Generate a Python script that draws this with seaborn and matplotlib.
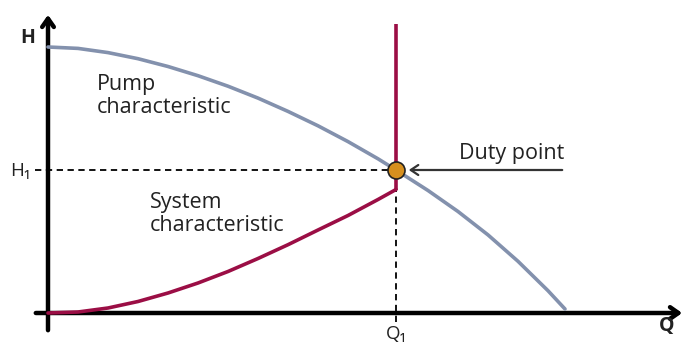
import numpy as np
import pandas as pd
import seaborn as sns
import matplotlib.pyplot as plt

# values (flow Q, head H in arbitrary units)
pump_q = [0, 30, 60, 90, 120, 150, 180, 210, 240, 270, 300, 330, 348, 380, 410, 440, 470, 500, 517]
pump_h = [266, 264.6, 260.4, 254.3, 246.5, 237.3, 226.8, 214.9, 201.6, 187.2, 171.4, 154.2, 143,
          122.5, 101.5, 78.1, 51.7, 22.3, 4]
sys_q = [0, 30, 60, 90, 120, 150, 180, 210, 240, 270, 300, 330, 348]
sys_h = [0, 1, 5, 11.5, 20, 30, 41.5, 54.5, 68.3, 83, 97.5, 113.5, 123.5]
duty_q, duty_h = 348, 143
vert_top = 289

sns.set_theme(style="white")
plt.rcParams['font.family'] = ['Open Sans', 'DejaVu Sans']

fig = plt.figure(figsize=(6.86, 3.43), dpi=100)
ax = fig.add_axes([0, 0, 1, 1])
ax.set_xlim(-48, 638)
ax.set_ylim(-30, 313)
ax.axis("off")

red = "#9b0e45"
blue = "#8391ad"
txt = "#222222"

# axes with arrows
ax.annotate("", xy=(0, 301), xytext=(0, -20),
            arrowprops=dict(arrowstyle="->,head_length=0.5,head_width=0.35", lw=3.2, color="black"))
ax.annotate("", xy=(637, 0), xytext=(-15, 0),
            arrowprops=dict(arrowstyle="->,head_length=0.5,head_width=0.35", lw=3.2, color="black"))

# dashed guide lines
ax.plot([-13, duty_q], [duty_h, duty_h], ls=(0, (3.5, 2.5)), color="black", lw=1.3, zorder=2)
ax.plot([duty_q, duty_q], [-9, sys_h[-1]], ls=(0, (3.5, 2.5)), color="black", lw=1.3, zorder=2)

pump = pd.DataFrame({"Q": pump_q, "H": pump_h})
system = pd.DataFrame({"Q": sys_q, "H": sys_h})
sns.lineplot(data=pump, x="Q", y="H", ax=ax, color=blue, lw=2.6, sort=False, zorder=3)
sns.lineplot(data=system, x="Q", y="H", ax=ax, color=red, lw=2.6, sort=False, zorder=3)
ax.plot([duty_q, duty_q], [sys_h[-1], vert_top], color=red, lw=2.6, solid_capstyle="butt", zorder=3)

sns.scatterplot(x=[duty_q], y=[duty_h], ax=ax, s=150, color="#d68f1e",
                edgecolor="#222222", linewidth=1.2, zorder=5)

ax.annotate("", xy=(358, duty_h), xytext=(517, duty_h),
            arrowprops=dict(arrowstyle="->,head_length=0.45,head_width=0.3", lw=1.6, color="#333333"))

# labels
ax.text(-20, 275, "H", fontsize=14, fontweight="bold", color=txt, ha="center", va="center")
ax.text(619, -13, "Q", fontsize=14, fontweight="bold", color=txt, ha="center", va="center")
ax.text(-17, 142, "H\u2081", fontsize=13.5, color=txt, ha="right", va="center")
ax.text(duty_q, -21, "Q\u2081", fontsize=13.5, color=txt, ha="center", va="center")
ax.text(49, 217, "Pump\ncharacteristic", fontsize=15.5, color=txt, ha="left", va="center", linespacing=1.15)
ax.text(102, 99, "System\ncharacteristic", fontsize=15.5, color=txt, ha="left", va="center", linespacing=1.15)
ax.text(516, 160, "Duty point", fontsize=15.5, color=txt, ha="right", va="center")

fig.savefig("out.png", dpi=100)
